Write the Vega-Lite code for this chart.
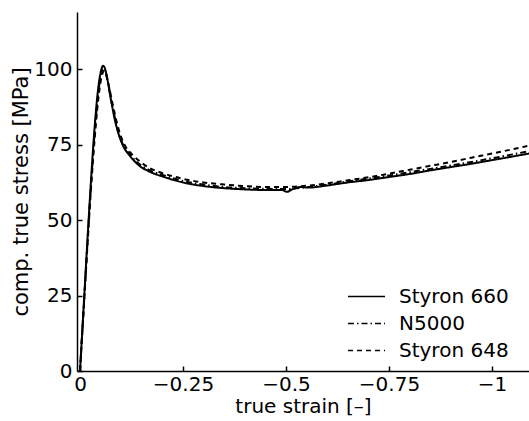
{
  "$schema": "https://vega.github.io/schema/vega-lite/v6.json",
  "width": 452,
  "height": 359,
  "autosize": {"type": "none"},
  "padding": {"left": 77, "top": 12, "right": 0, "bottom": 50},
  "background": "white",
  "config": {
    "view": {"stroke": null},
    "font": "DejaVu Sans",
    "axis": {
      "grid": false,
      "domainColor": "black",
      "domainWidth": 1.5,
      "tickColor": "black",
      "tickWidth": 1.5,
      "tickSize": -5,
      "labelFont": "DejaVu Sans",
      "labelFontSize": 20,
      "labelColor": "black",
      "titleFont": "DejaVu Sans",
      "titleFontSize": 20,
      "titleFontWeight": "normal",
      "titleColor": "black"
    },
    "legend": {
      "labelFont": "DejaVu Sans",
      "labelFontSize": 20,
      "labelColor": "black"
    }
  },
  "data": {
    "values": [
      {"series": "Styron 660", "strain": 0, "stress": 0},
      {"series": "Styron 660", "strain": -0.01, "stress": 24},
      {"series": "Styron 660", "strain": -0.02, "stress": 48},
      {"series": "Styron 660", "strain": -0.028, "stress": 66},
      {"series": "Styron 660", "strain": -0.035, "stress": 80},
      {"series": "Styron 660", "strain": -0.042, "stress": 91},
      {"series": "Styron 660", "strain": -0.048, "stress": 97.5},
      {"series": "Styron 660", "strain": -0.053, "stress": 100.5},
      {"series": "Styron 660", "strain": -0.056, "stress": 101.2},
      {"series": "Styron 660", "strain": -0.06, "stress": 100.5},
      {"series": "Styron 660", "strain": -0.066, "stress": 97},
      {"series": "Styron 660", "strain": -0.075, "stress": 90},
      {"series": "Styron 660", "strain": -0.085, "stress": 83},
      {"series": "Styron 660", "strain": -0.095, "stress": 78},
      {"series": "Styron 660", "strain": -0.105, "stress": 74.5},
      {"series": "Styron 660", "strain": -0.12, "stress": 71.5},
      {"series": "Styron 660", "strain": -0.14, "stress": 68.5},
      {"series": "Styron 660", "strain": -0.17, "stress": 66},
      {"series": "Styron 660", "strain": -0.2, "stress": 64.5},
      {"series": "Styron 660", "strain": -0.25, "stress": 62.5},
      {"series": "Styron 660", "strain": -0.3, "stress": 61.3},
      {"series": "Styron 660", "strain": -0.35, "stress": 60.6},
      {"series": "Styron 660", "strain": -0.4, "stress": 60.2},
      {"series": "Styron 660", "strain": -0.45, "stress": 60},
      {"series": "Styron 660", "strain": -0.49, "stress": 60},
      {"series": "Styron 660", "strain": -0.503, "stress": 59.4},
      {"series": "Styron 660", "strain": -0.515, "stress": 60.2},
      {"series": "Styron 660", "strain": -0.535, "stress": 61},
      {"series": "Styron 660", "strain": -0.555, "stress": 60.8},
      {"series": "Styron 660", "strain": -0.6, "stress": 61.5},
      {"series": "Styron 660", "strain": -0.65, "stress": 62.5},
      {"series": "Styron 660", "strain": -0.7, "stress": 63.3},
      {"series": "Styron 660", "strain": -0.75, "stress": 64.3},
      {"series": "Styron 660", "strain": -0.8, "stress": 65.3},
      {"series": "Styron 660", "strain": -0.85, "stress": 66.5},
      {"series": "Styron 660", "strain": -0.9, "stress": 67.6},
      {"series": "Styron 660", "strain": -0.95, "stress": 68.7},
      {"series": "Styron 660", "strain": -1.0, "stress": 69.9},
      {"series": "Styron 660", "strain": -1.05, "stress": 71.1},
      {"series": "Styron 660", "strain": -1.09, "stress": 72.1},

      {"series": "N5000", "strain": 0, "stress": 0},
      {"series": "N5000", "strain": -0.01, "stress": 23.5},
      {"series": "N5000", "strain": -0.02, "stress": 47},
      {"series": "N5000", "strain": -0.028, "stress": 64.5},
      {"series": "N5000", "strain": -0.035, "stress": 78},
      {"series": "N5000", "strain": -0.042, "stress": 89},
      {"series": "N5000", "strain": -0.048, "stress": 96},
      {"series": "N5000", "strain": -0.054, "stress": 99.8},
      {"series": "N5000", "strain": -0.058, "stress": 100.3},
      {"series": "N5000", "strain": -0.062, "stress": 99.3},
      {"series": "N5000", "strain": -0.068, "stress": 95.5},
      {"series": "N5000", "strain": -0.077, "stress": 89},
      {"series": "N5000", "strain": -0.087, "stress": 82.5},
      {"series": "N5000", "strain": -0.097, "stress": 77.5},
      {"series": "N5000", "strain": -0.107, "stress": 74.3},
      {"series": "N5000", "strain": -0.12, "stress": 72},
      {"series": "N5000", "strain": -0.14, "stress": 69},
      {"series": "N5000", "strain": -0.17, "stress": 66.5},
      {"series": "N5000", "strain": -0.2, "stress": 65},
      {"series": "N5000", "strain": -0.25, "stress": 63},
      {"series": "N5000", "strain": -0.3, "stress": 61.8},
      {"series": "N5000", "strain": -0.35, "stress": 61},
      {"series": "N5000", "strain": -0.4, "stress": 60.6},
      {"series": "N5000", "strain": -0.45, "stress": 60.4},
      {"series": "N5000", "strain": -0.5, "stress": 60.3},
      {"series": "N5000", "strain": -0.55, "stress": 60.9},
      {"series": "N5000", "strain": -0.6, "stress": 61.8},
      {"series": "N5000", "strain": -0.65, "stress": 62.8},
      {"series": "N5000", "strain": -0.7, "stress": 63.8},
      {"series": "N5000", "strain": -0.75, "stress": 64.8},
      {"series": "N5000", "strain": -0.8, "stress": 65.9},
      {"series": "N5000", "strain": -0.85, "stress": 67},
      {"series": "N5000", "strain": -0.9, "stress": 68.1},
      {"series": "N5000", "strain": -0.95, "stress": 69.3},
      {"series": "N5000", "strain": -1.0, "stress": 70.5},
      {"series": "N5000", "strain": -1.05, "stress": 71.8},
      {"series": "N5000", "strain": -1.09, "stress": 72.9},

      {"series": "Styron 648", "strain": 0, "stress": 0},
      {"series": "Styron 648", "strain": -0.01, "stress": 23},
      {"series": "Styron 648", "strain": -0.02, "stress": 46},
      {"series": "Styron 648", "strain": -0.028, "stress": 63},
      {"series": "Styron 648", "strain": -0.035, "stress": 76},
      {"series": "Styron 648", "strain": -0.042, "stress": 87},
      {"series": "Styron 648", "strain": -0.049, "stress": 95},
      {"series": "Styron 648", "strain": -0.055, "stress": 98.8},
      {"series": "Styron 648", "strain": -0.059, "stress": 99.5},
      {"series": "Styron 648", "strain": -0.063, "stress": 98.5},
      {"series": "Styron 648", "strain": -0.07, "stress": 94.5},
      {"series": "Styron 648", "strain": -0.08, "stress": 88},
      {"series": "Styron 648", "strain": -0.09, "stress": 82},
      {"series": "Styron 648", "strain": -0.1, "stress": 77.5},
      {"series": "Styron 648", "strain": -0.11, "stress": 74.5},
      {"series": "Styron 648", "strain": -0.125, "stress": 72},
      {"series": "Styron 648", "strain": -0.145, "stress": 69.5},
      {"series": "Styron 648", "strain": -0.17, "stress": 67.2},
      {"series": "Styron 648", "strain": -0.2, "stress": 65.6},
      {"series": "Styron 648", "strain": -0.25, "stress": 63.7},
      {"series": "Styron 648", "strain": -0.3, "stress": 62.5},
      {"series": "Styron 648", "strain": -0.35, "stress": 61.8},
      {"series": "Styron 648", "strain": -0.4, "stress": 61.3},
      {"series": "Styron 648", "strain": -0.45, "stress": 61},
      {"series": "Styron 648", "strain": -0.5, "stress": 61},
      {"series": "Styron 648", "strain": -0.55, "stress": 61.4},
      {"series": "Styron 648", "strain": -0.6, "stress": 62.2},
      {"series": "Styron 648", "strain": -0.65, "stress": 63.2},
      {"series": "Styron 648", "strain": -0.7, "stress": 64.2},
      {"series": "Styron 648", "strain": -0.75, "stress": 65.4},
      {"series": "Styron 648", "strain": -0.8, "stress": 66.7},
      {"series": "Styron 648", "strain": -0.85, "stress": 68},
      {"series": "Styron 648", "strain": -0.9, "stress": 69.3},
      {"series": "Styron 648", "strain": -0.95, "stress": 70.7},
      {"series": "Styron 648", "strain": -1.0, "stress": 72.1},
      {"series": "Styron 648", "strain": -1.05, "stress": 73.5},
      {"series": "Styron 648", "strain": -1.09, "stress": 74.7}
    ]
  },
  "mark": {"type": "line", "color": "black", "strokeWidth": 2, "interpolate": "monotone"},
  "encoding": {
    "x": {
      "field": "strain",
      "type": "quantitative",
      "scale": {"domain": [-1.0898, 0.0073], "reverse": true, "nice": false, "zero": false},
      "axis": {
        "title": "true strain [–]",
        "values": [0, -0.25, -0.5, -0.75, -1],
        "labelExpr": "datum.value == 0 ? '0' : '−' + format(-datum.value, '')",
        "labelPadding": 8,
        "titlePadding": 2
      }
    },
    "y": {
      "field": "stress",
      "type": "quantitative",
      "scale": {"domain": [0, 119], "nice": false},
      "axis": {
        "title": "comp. true stress [MPa]",
        "titleFontSize": 21,
        "values": [0, 25, 50, 75, 100],
        "labelPadding": 10,
        "titlePadding": 2
      }
    },
    "strokeDash": {
      "field": "series",
      "type": "nominal",
      "scale": {
        "domain": ["Styron 660", "N5000", "Styron 648"],
        "range": [[1, 0], [6, 3, 1.5, 3], [5, 4]]
      },
      "legend": {
        "title": null,
        "orient": "none",
        "legendX": 270,
        "legendY": 271,
        "symbolType": "stroke",
        "symbolStrokeColor": "black",
        "symbolStrokeWidth": 1.5,
        "symbolSize": 1369,
        "clipHeight": 27,
        "labelOffset": 13,
        "rowPadding": 0
      }
    }
  }
}
